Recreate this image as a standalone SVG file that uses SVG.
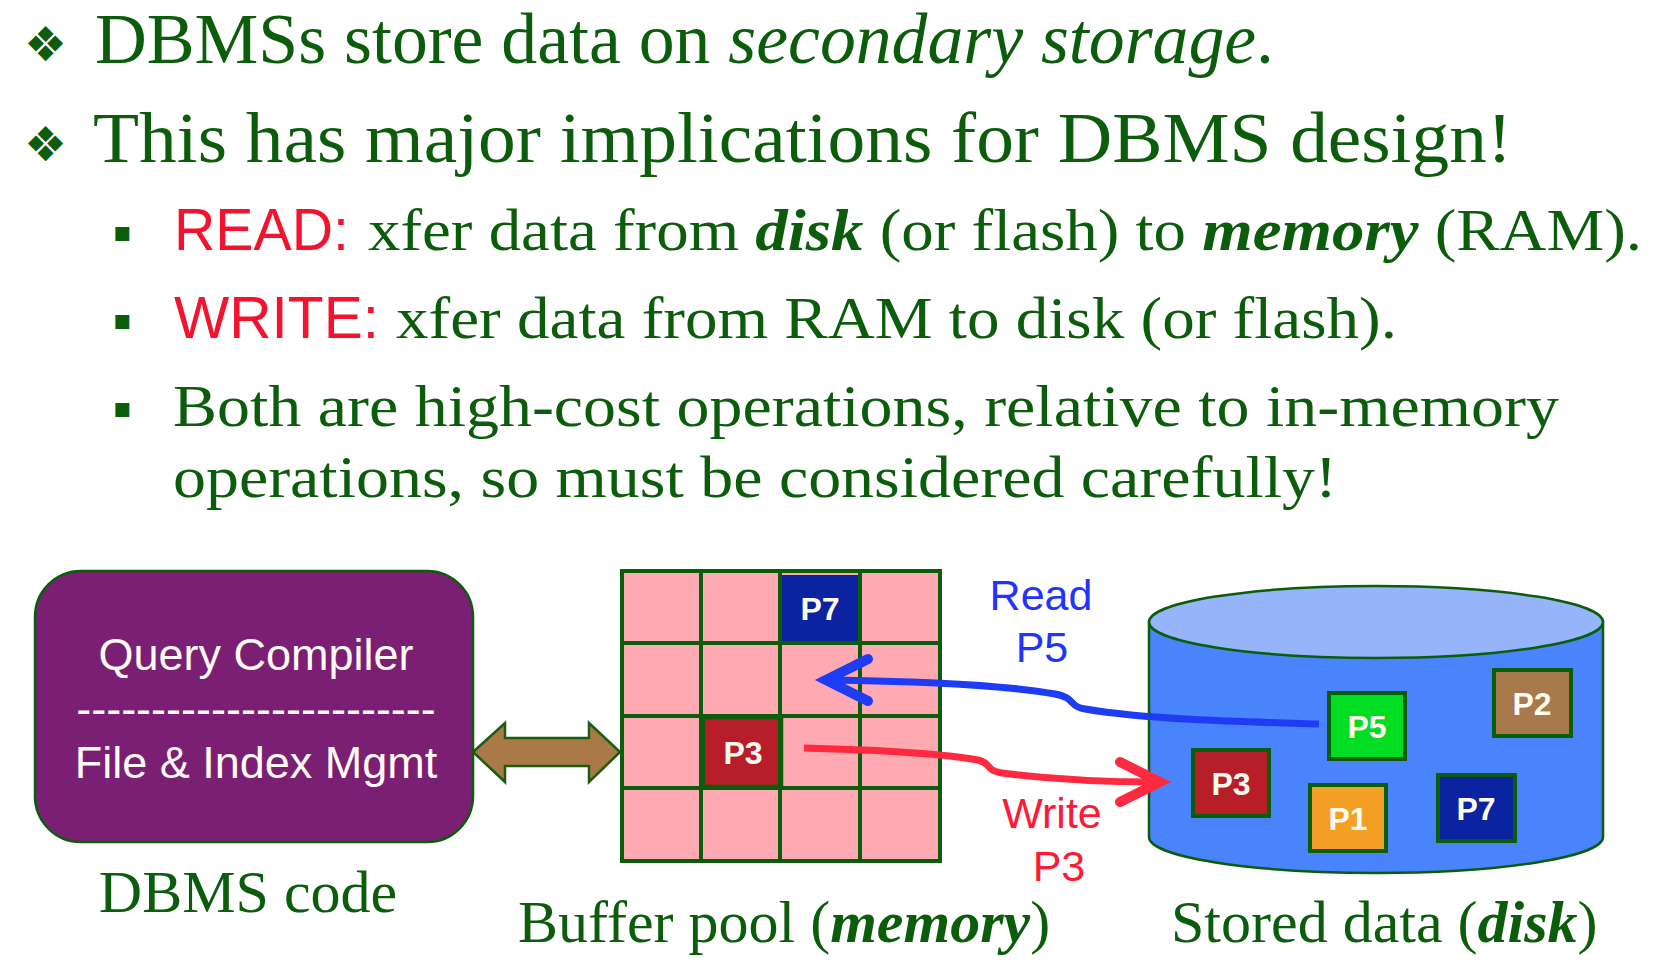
<svg xmlns="http://www.w3.org/2000/svg" width="1654" height="966" viewBox="0 0 1654 966">
<style>
.serif{font-family:"Liberation Serif","Times New Roman",serif;fill:#0B5C0B}
.h1{font-size:72px}
.h2{font-size:60px}
.sans{font-family:"Liberation Sans",Arial,sans-serif}
.red{fill:#F5122E}
.bi{font-weight:bold;font-style:italic}
.it{font-style:italic}
.dia{font-family:"DejaVu Sans",sans-serif;font-size:48px;fill:#0B5C0B}
.sq{font-family:"DejaVu Sans",sans-serif;font-size:28px;fill:#0B5C0B}
.page{stroke:#0B5C0B;stroke-width:4}
.plabel{font-family:"Liberation Sans",Arial,sans-serif;font-weight:bold;font-size:32px;fill:#FFFBF0;text-anchor:middle}
.cap{font-family:"Liberation Serif","Times New Roman",serif;font-size:60px;fill:#0B5C0B}
.boxt{font-family:"Liberation Sans",Arial,sans-serif;font-size:45px;fill:#FFFBF2;text-anchor:middle}
.lab{font-family:"Liberation Sans",Arial,sans-serif;font-size:43px;text-anchor:middle}
</style>
<rect width="1654" height="966" fill="#FFFFFF"/>
<g id="bullets-text">
  <text class="dia" x="24" y="61">❖</text>
  <text class="serif h1" x="95" y="63" textLength="1179" lengthAdjust="spacingAndGlyphs">DBMSs store data on <tspan class="it">secondary storage</tspan>.</text>
  <text class="dia" x="24" y="161">❖</text>
  <text class="serif h1" x="93" y="162" textLength="1419" lengthAdjust="spacingAndGlyphs">This has major implications for DBMS design!</text>
  <text class="sq" x="113" y="241">▪</text>
  <text class="sans red" x="174" y="250" font-size="60" textLength="175" lengthAdjust="spacingAndGlyphs">READ:</text>
  <text class="serif h2" x="368" y="250" textLength="1274" lengthAdjust="spacingAndGlyphs">xfer data from <tspan class="bi">disk</tspan> (or flash) to <tspan class="bi">memory</tspan> (RAM).</text>
  <text class="sq" x="113" y="329">▪</text>
  <text class="sans red" x="174" y="338" font-size="60" textLength="205" lengthAdjust="spacingAndGlyphs">WRITE:</text>
  <text class="serif h2" x="396" y="338" textLength="1001" lengthAdjust="spacingAndGlyphs">xfer data from RAM to disk (or flash).</text>
  <text class="sq" x="113" y="417">▪</text>
  <text class="serif h2" x="173" y="426" textLength="1386" lengthAdjust="spacingAndGlyphs">Both are high-cost operations, relative to in-memory</text>
  <text class="serif h2" x="173" y="497" textLength="1164" lengthAdjust="spacingAndGlyphs">operations, so must be considered carefully!</text>
</g>
<g id="dbms-code">
  <rect x="35" y="571" width="438" height="271" rx="46" ry="46" fill="#7B1F75" stroke="#0B5C0B" stroke-width="2.5"/>
  <text class="boxt" x="256" y="670">Query Compiler</text>
  <text class="boxt" x="256" y="724">------------------------</text>
  <text class="boxt" x="256" y="778">File &amp; Index Mgmt</text>
  <text class="cap" x="248" y="912" text-anchor="middle">DBMS code</text>
</g>
<g id="buffer-pool">
  <rect x="622" y="571" width="318" height="290" fill="#FFAAB2"/>
  <rect x="782" y="575" width="78" height="66" fill="#0B23A0"/>
  <rect x="703" y="717" width="78" height="70" fill="#B81E2A" stroke="#0B5C0B" stroke-width="4.5"/>
  <g stroke="#0B5C0B" stroke-width="4" fill="none">
    <rect x="622" y="571" width="318" height="290"/>
    <line x1="701" y1="571" x2="701" y2="861"/>
    <line x1="780" y1="571" x2="780" y2="861"/>
    <line x1="860" y1="571" x2="860" y2="861"/>
    <line x1="622" y1="643" x2="940" y2="643"/>
    <line x1="622" y1="716" x2="940" y2="716"/>
    <line x1="622" y1="788" x2="940" y2="788"/>
  </g>
  <text class="plabel" x="820" y="620">P7</text>
  <text class="plabel" x="743" y="764">P3</text>
  <text class="cap" x="518" y="942">Buffer pool (<tspan class="bi">memory</tspan>)</text>
</g>
<g id="disk">
  <path d="M1149,622 L1149,837 A227,36 0 0 0 1603,837 L1603,622 Z" fill="#4A84FC" stroke="#0B5C0B" stroke-width="2.5"/>
  <ellipse cx="1376" cy="622" rx="227" ry="36" fill="#96B4FA" stroke="#0B5C0B" stroke-width="2.5"/>
  <rect class="page" x="1329" y="693" width="76" height="66" fill="#00DD22"/>
  <rect class="page" x="1494" y="670" width="77" height="66" fill="#A8794A"/>
  <rect class="page" x="1193" y="750" width="76" height="66" fill="#B81E2A"/>
  <rect class="page" x="1310" y="785" width="76" height="66" fill="#F4A024"/>
  <rect class="page" x="1438" y="775" width="77" height="66" fill="#0B23A0"/>
  <text class="plabel" x="1367" y="738">P5</text>
  <text class="plabel" x="1532" y="715">P2</text>
  <text class="plabel" x="1231" y="795">P3</text>
  <text class="plabel" x="1348" y="830">P1</text>
  <text class="plabel" x="1476" y="820">P7</text>
  <text class="cap" x="1171" y="942">Stored data (<tspan class="bi">disk</tspan>)</text>
</g>
<g id="label-read">
  <text class="lab" x="1041" y="610" fill="#2233FF">Read</text>
  <text class="lab" x="1042" y="662" fill="#2233FF">P5</text>
</g>
<g id="label-write">
  <text class="lab" x="1052" y="828" fill="#FF1A33">Write</text>
  <text class="lab" x="1059" y="881" fill="#FF1A33">P3</text>
</g>
<g id="connectors">
  <polygon points="473,752 505,723 505,738 589,738 589,723 620,752 589,782 589,766 505,766 505,782" fill="#A97A48" stroke="#1A5C12" stroke-width="2.5" stroke-linejoin="miter"/>
  <path d="M1319,724 C1250,722 1150,720 1085,709 C1068,706 1076,698 1055,694 C1000,684 900,681 826,680" fill="none" stroke="#1F3CF5" stroke-width="7"/>
  <polyline points="868,659 826,680 868,701" fill="none" stroke="#1F3CF5" stroke-width="10" stroke-linecap="round" stroke-linejoin="miter"/>
  <path d="M804,748 C880,750 940,753 978,760 C992,763 984,770 1002,773 C1050,779 1110,782 1158,782" fill="none" stroke="#FF2A40" stroke-width="7"/>
  <polyline points="1120,762 1160,782 1120,802" fill="none" stroke="#FF2A40" stroke-width="10" stroke-linecap="round" stroke-linejoin="miter"/>
</g>
</svg>
